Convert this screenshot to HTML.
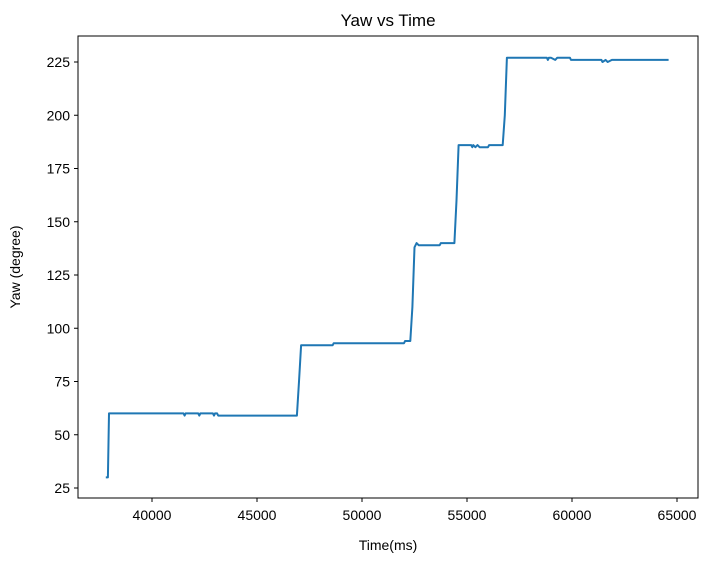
<!DOCTYPE html>
<html><head><meta charset="utf-8"><style>
body{margin:0;background:#fff;font-family:"Liberation Sans",sans-serif;}
svg text{font-family:"Liberation Sans","DejaVu Sans",sans-serif;fill:#000;}
</style></head><body>
<svg id="chart" width="712" height="557">
<text x="388" y="26" font-size="17" text-anchor="middle">Yaw vs Time</text>
<g id="plot"></g>
<rect x="78" y="36" width="620" height="462" fill="none" stroke="#000" stroke-width="1"/>
<text x="388" y="550" font-size="14" text-anchor="middle">Time(ms)</text>
<text x="20" y="267" font-size="14" text-anchor="middle" transform="rotate(-90 20 267)">Yaw (degree)</text>
</svg>
<script>
const times=[37800,37900,37950,41500,41550,41600,42200,42250,42300,42900,42950,43000,43100,43150,46900,47000,47100,47150,48600,48650,52000,52050,52300,52400,52500,52600,52700,53700,53750,53800,54400,54500,54600,54700,55200,55250,55300,55400,55500,55600,56000,56050,56700,56800,56900,58800,58850,58900,59000,59200,59300,59400,59900,59950,61400,61450,61600,61700,61900,62000,64600];
const yaw=[30,30,60,60,59,60,60,59,60,60,59,60,60,59,59,75,92,92,92,93,93,94,94,110,138,140,139,139,140,140,140,160,186,186,186,185,186,185,186,185,185,186,186,200,227,227,226,227,227,226,227,227,227,226,226,225,226,225,226,226,226];
const xTicks=[40000,45000,50000,55000,60000,65000];
const yTicks=[25,50,75,100,125,150,175,200,225];
const x=t=>78+(t-36476)*105/5000;
const y=v=>488-(v-25)*426/200;
const g=document.getElementById('plot');
const NS='http://www.w3.org/2000/svg';
function mk(tag,attrs){const e=document.createElementNS(NS,tag);for(const k in attrs)e.setAttribute(k,attrs[k]);return e;}
xTicks.forEach(t=>{
 const l=mk('line',{x1:x(t),x2:x(t),y1:498,y2:502,stroke:'#000'});
 
 
 g.appendChild(l);
 const tx=mk('text',{x:x(t),y:520,'font-size':14,'text-anchor':'middle'});tx.textContent=t;
 
 
 g.appendChild(tx);
});
yTicks.forEach(v=>{
 const l=mk('line',{x1:74,x2:78,y1:y(v),y2:y(v),stroke:'#000'});
 
 
 g.appendChild(l);
 const tx=mk('text',{x:70,y:y(v)+5,'font-size':14,'text-anchor':'end'});tx.textContent=v;
 
 
 g.appendChild(tx);
});
const pts=times.map((t,i)=>x(t).toFixed(1)+','+y(yaw[i]).toFixed(1)).join(' ');
const pl=mk('polyline',{points:pts,fill:'none',stroke:'#1f77b4','stroke-width':2,'stroke-linejoin':'round'});


g.appendChild(pl);
</script>
</body></html>
